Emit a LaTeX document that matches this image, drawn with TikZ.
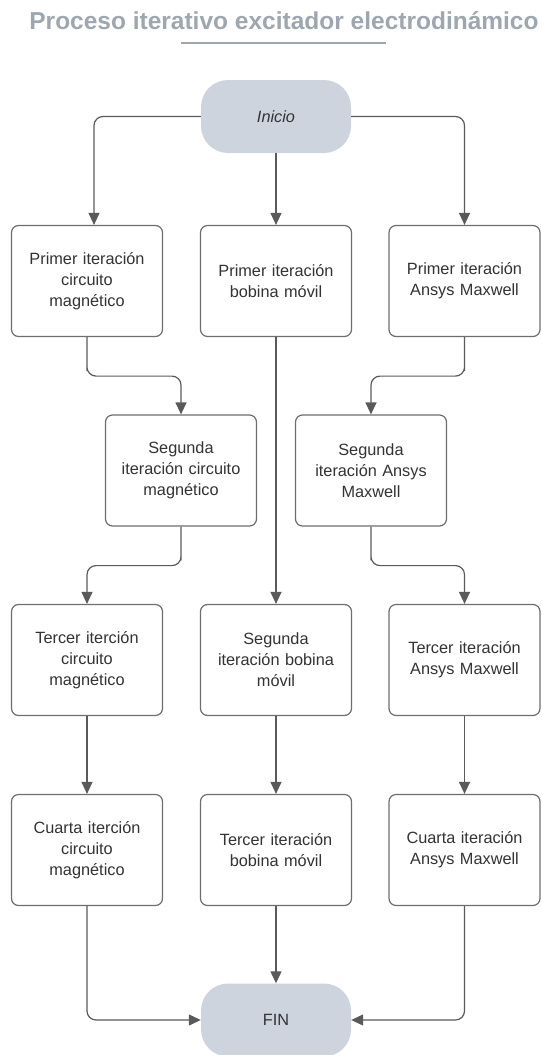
\documentclass[tikz,border=0pt]{standalone}
\usepackage{fontspec}
\setmainfont{Liberation Sans}
\usetikzlibrary{arrows.meta}
\definecolor{titlec}{HTML}{9EA6B0}
\definecolor{termfill}{HTML}{CED4DE}
\definecolor{boxline}{HTML}{6E6E6E}
\definecolor{linec}{HTML}{5A5A5A}
\definecolor{txt}{HTML}{333333}
\tikzset{
  stepbox/.style={draw=boxline, line width=1.2pt, fill=white, rounded corners=7pt,
    minimum width=151pt, minimum height=111pt, text width=140pt, align=center,
    font=\fontsize{16.3}{21}\selectfont, text=txt, inner sep=0pt},
  term/.style={fill=termfill, draw=none, rounded corners=27pt,
    minimum width=150pt, minimum height=73pt, font=\fontsize{16.3}{21}\selectfont, text=txt},
  conn/.style={draw=linec, line width=1.2pt, rounded corners=9pt,
    -{Triangle[length=12pt,width=11pt]}, color=linec}
}
\begin{document}
\begin{tikzpicture}[x=1pt,y=1pt]
\useasboundingbox (0,0) rectangle (541,-1055);
\node[font=\fontsize{24.5}{28}\selectfont\bfseries, text=titlec] (title) at (284,-21) {Proceso iterativo excitador electrodinámico};
\coordinate (ul1) at (181,-43);
\coordinate (ul2) at (386,-43);
\draw[titlec, line width=2pt] (ul1) -- (ul2);

\node[term] (ini) at (276,-116.5) {\itshape Inicio};
\node[term] (fin) at (276,-1020) {FIN};

\node[stepbox] (a1) at (87,-281) {Primer iteración\\circuito\\magnético};
\node[stepbox] (b1) at (276,-281) {Primer iteración\\bobina móvil};
\node[stepbox] (c1) at (464.5,-281) {Primer iteración\\Ansys Maxwell};

\node[stepbox] (a2) at (181,-470.5) {Segunda\\iteración circuito\\magnético};
\node[stepbox] (c2) at (371,-470.5) {Segunda\\iteración Ansys\\Maxwell};

\node[stepbox] (a3) at (87,-660) {Tercer iterción\\circuito\\magnético};
\node[stepbox] (b3) at (276,-660) {Segunda\\iteración bobina\\móvil};
\node[stepbox] (c3) at (464.5,-660) {Tercer iteración\\Ansys Maxwell};

\node[stepbox] (a4) at (87,-850) {Cuarta iterción\\circuito\\magnético};
\node[stepbox] (b4) at (276,-850) {Tercer iteración\\bobina móvil};
\node[stepbox] (c4) at (464.5,-850) {Cuarta iteración\\Ansys Maxwell};

% from Inicio
\draw[conn] (ini.west) -| ([xshift=7pt]a1.north);
\draw[conn] (ini.south) -- (b1.north);
\draw[conn] (ini.east) -| (c1.north);

% left column
\draw[conn] (a1.south) |- ++(0,-39) -| (a2.north);
\draw[conn] (a2.south) |- ++(0,-39) -| (a3.north);
\draw[conn] (a3.south) -- (a4.north);
\draw[conn] (a4.south) |- (fin.west);

% middle column
\draw[conn] (b1.south) -- (b3.north);
\draw[conn] (b3.south) -- (b4.north);
\draw[conn] (b4.south) -- (fin.north);

% right column
\draw[conn] (c1.south) |- ++(0,-39) -| (c2.north);
\draw[conn] (c2.south) |- ++(0,-39) -| (c3.north);
\draw[conn] (c3.south) -- (c4.north);
\draw[conn] (c4.south) |- (fin.east);
\end{tikzpicture}
\end{document}
